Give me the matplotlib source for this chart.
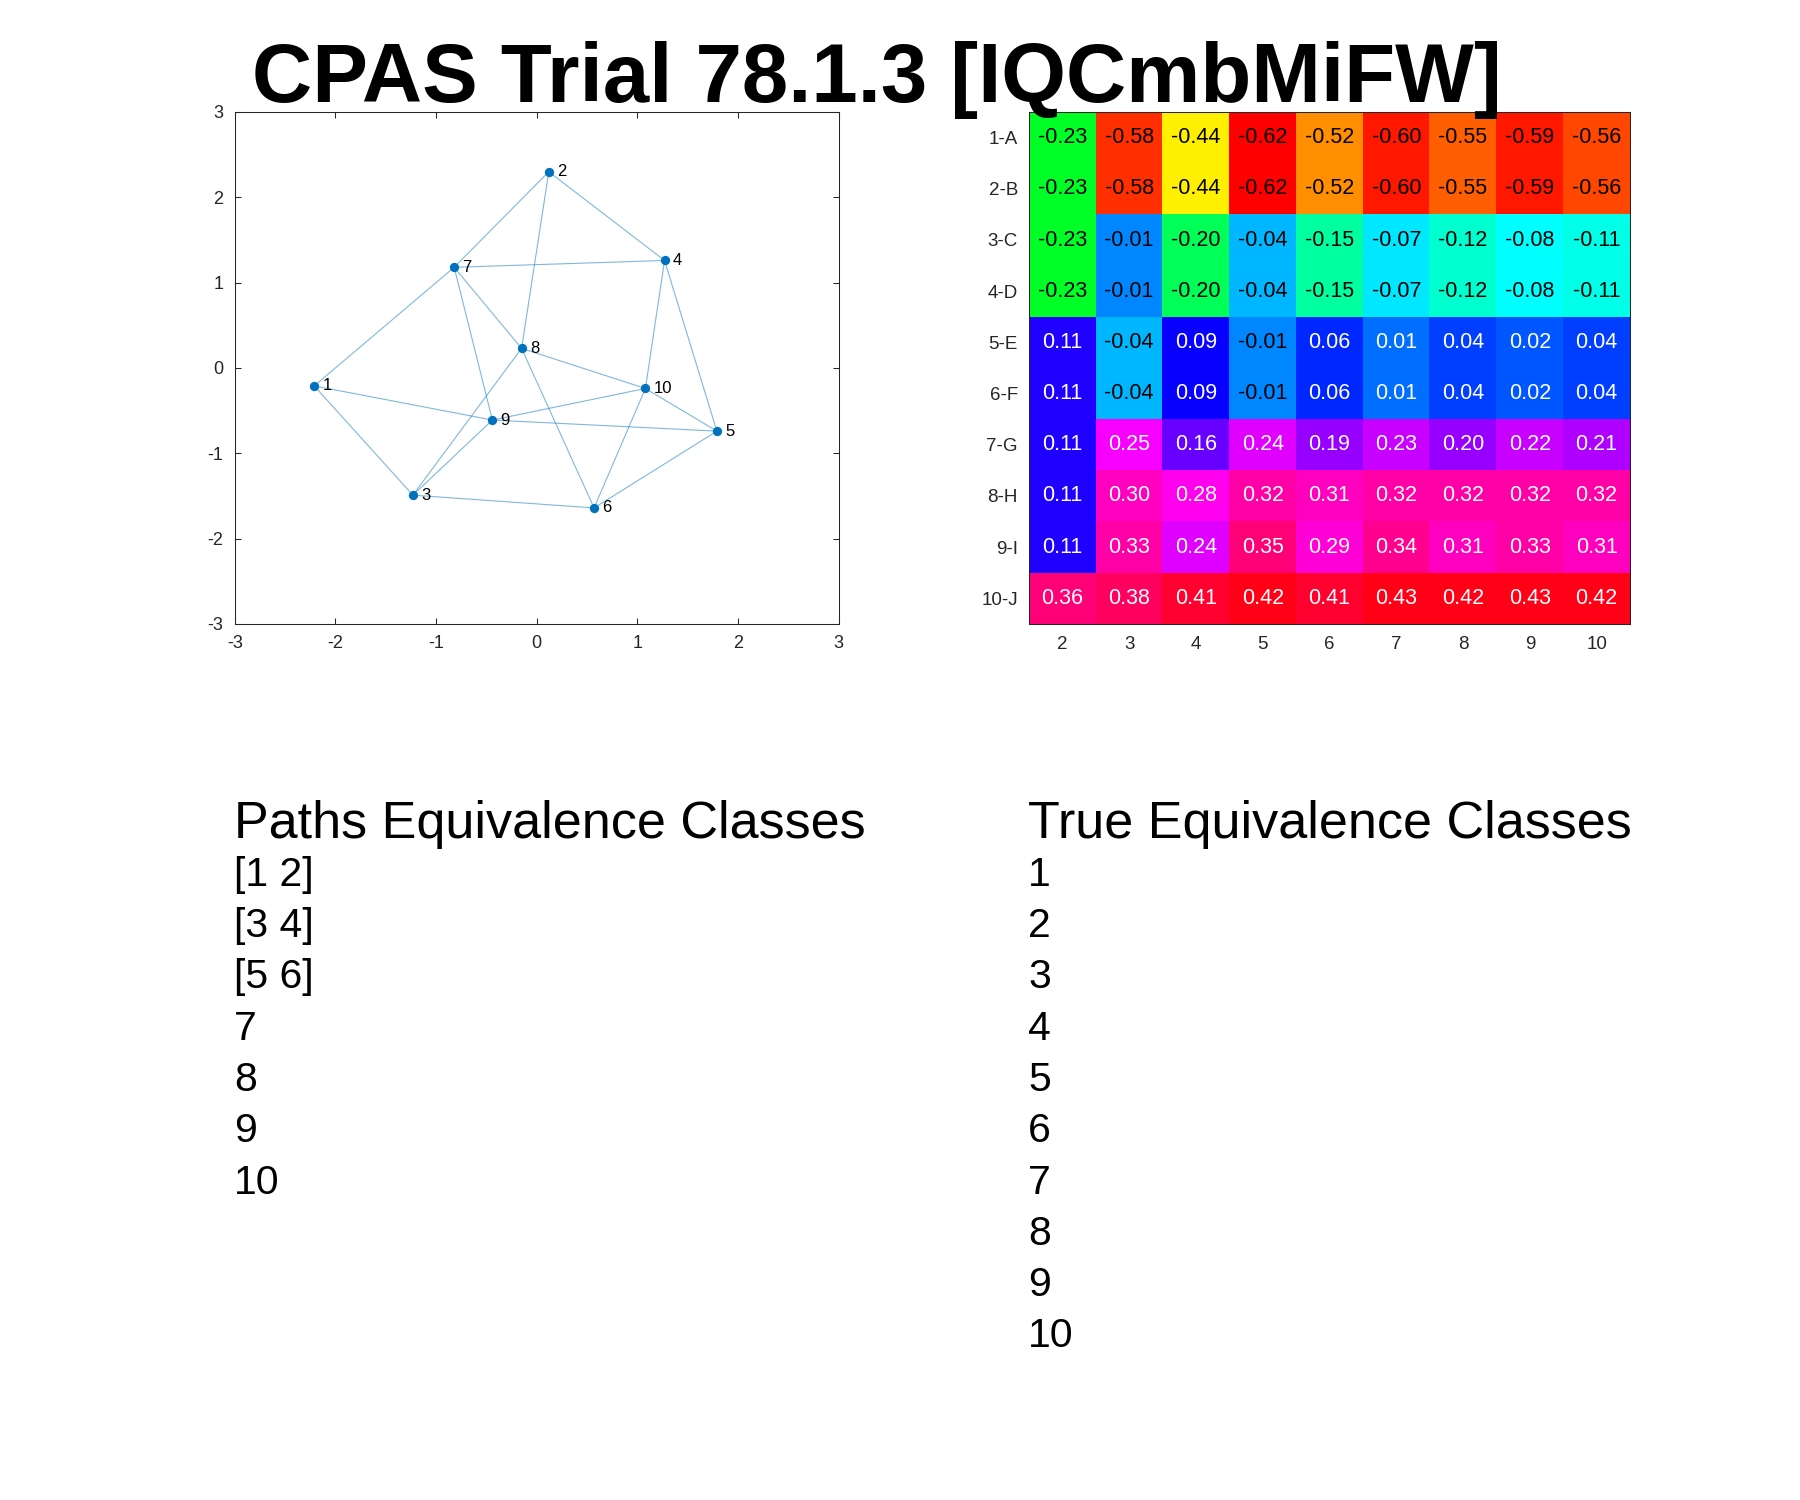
import numpy as np
import matplotlib
matplotlib.use("Agg")
import matplotlib.pyplot as plt
from matplotlib.colors import ListedColormap, Normalize, hsv_to_rgb

plt.rcParams['font.family'] = ['Liberation Sans', 'DejaVu Sans']
plt.rcParams['axes.unicode_minus'] = False

# ---------------- data ----------------
title_text = "CPAS Trial 78.1.3 [IQCmbMiFW]"

node_labels = ["1", "2", "3", "4", "5", "6", "7", "8", "9", "10"]
node_x = [-2.21, 0.12, -1.23, 1.27, 1.79, 0.57, -0.82, -0.15, -0.44, 1.08]
node_y = [-0.21, 2.30, -1.49, 1.26, -0.74, -1.64, 1.18, 0.23, -0.61, -0.24]
edges = [(2, 7), (2, 8), (2, 4), (7, 4), (7, 1), (7, 9), (7, 8), (1, 9), (1, 3),
         (8, 3), (8, 10), (8, 6), (9, 3), (9, 10), (9, 5), (10, 4), (10, 5),
         (10, 6), (4, 5), (3, 6), (6, 5)]

row_labels = ["1-A", "2-B", "3-C", "4-D", "5-E", "6-F", "7-G", "8-H", "9-I", "10-J"]
col_labels = ["2", "3", "4", "5", "6", "7", "8", "9", "10"]
row_1A = [-0.23, -0.58, -0.44, -0.62, -0.52, -0.60, -0.55, -0.59, -0.56]
row_2B = [-0.23, -0.58, -0.44, -0.62, -0.52, -0.60, -0.55, -0.59, -0.56]
row_3C = [-0.23, -0.01, -0.20, -0.04, -0.15, -0.07, -0.12, -0.08, -0.11]
row_4D = [-0.23, -0.01, -0.20, -0.04, -0.15, -0.07, -0.12, -0.08, -0.11]
row_5E = [0.11, -0.04, 0.09, -0.01, 0.06, 0.01, 0.04, 0.02, 0.04]
row_6F = [0.11, -0.04, 0.09, -0.01, 0.06, 0.01, 0.04, 0.02, 0.04]
row_7G = [0.11, 0.25, 0.16, 0.24, 0.19, 0.23, 0.20, 0.22, 0.21]
row_8H = [0.11, 0.30, 0.28, 0.32, 0.31, 0.32, 0.32, 0.32, 0.32]
row_9I = [0.11, 0.33, 0.24, 0.35, 0.29, 0.34, 0.31, 0.33, 0.31]
row_10J = [0.36, 0.38, 0.41, 0.42, 0.41, 0.43, 0.42, 0.43, 0.42]

paths_header = "Paths Equivalence Classes"
paths_classes = ["[1 2]", "[3 4]", "[5 6]", "7", "8", "9", "10"]
true_header = "True Equivalence Classes"
true_classes = ["1", "2", "3", "4", "5", "6", "7", "8", "9", "10"]

# ---------------- figure ----------------
W, H = 1800, 1500
fig = plt.figure(figsize=(W / 100, H / 100), dpi=100)

def ax_rect(x0, y0, x1, y1):
    return [x0 / W, 1 - y1 / H, (x1 - x0) / W, (y1 - y0) / H]

tick_gray = '#262626'

# ---- graph axes ----
ax1 = fig.add_axes(ax_rect(234.7, 112, 838.7, 624))
edge_color = (0.0, 0.447, 0.741)
for a, b in edges:
    ax1.plot([node_x[a - 1], node_x[b - 1]], [node_y[a - 1], node_y[b - 1]],
             color=edge_color, alpha=0.5, lw=0.8, zorder=1, solid_capstyle='butt')
ax1.plot(node_x, node_y, 'o', color='#0072BD', markersize=6.7, zorder=2, markeredgewidth=0)
for lab, x, y in zip(node_labels, node_x, node_y):
    ax1.annotate(lab, (x, y), xytext=(6.0, 0), textcoords='offset points',
                 ha='left', va='center', fontsize=12, color='black')
ax1.set_xlim(-3, 3)
ax1.set_ylim(-3, 3)
ax1.set_xticks(range(-3, 4))
ax1.set_yticks(range(-3, 4))
ax1.tick_params(direction='in', length=4.3, width=0.75, top=True, right=True,
                labelsize=13, colors=tick_gray, pad=8)
for s in ax1.spines.values():
    s.set_linewidth(0.75)
    s.set_color(tick_gray)

# ---- heatmap axes ----
M = np.array([row_1A, row_2B, row_3C, row_4D, row_5E, row_6F, row_7G, row_8H, row_9I, row_10J])
ncolor = 64
cmap = ListedColormap(hsv_to_rgb(np.column_stack([np.arange(ncolor) / ncolor,
                                                   np.ones(ncolor), np.ones(ncolor)])))
ax2 = fig.add_axes(ax_rect(1029, 112, 1630, 624))
ax2.imshow(M, cmap=cmap, norm=Normalize(vmin=M.min(), vmax=M.max()),
           aspect='auto', interpolation='nearest')
for i in range(M.shape[0]):
    for j in range(M.shape[1]):
        v = M[i, j]
        ax2.text(j, i, f"{v:.2f}", ha='center', va='center', fontsize=15.5,
                 color='black' if v < 0 else 'white')
ax2.set_xticks(range(len(col_labels)))
ax2.set_xticklabels(col_labels)
ax2.set_yticks(range(len(row_labels)))
ax2.set_yticklabels(row_labels)
ax2.tick_params(axis='x', length=0, labelsize=13.5, colors=tick_gray, pad=9)
ax2.tick_params(axis='y', length=0, labelsize=13.5, colors=tick_gray, pad=8)
for s in ax2.spines.values():
    s.set_linewidth(0.75)
    s.set_color(tick_gray)

# ---- title ----
fig.text(877 / W, 1 - 101.7 / H, title_text, ha='center', va='baseline',
         fontsize=60, fontweight='bold', color='black')

# ---- bottom lists ----
header_base = 838.0
item_base = 886.0
line_h = 51.25
fig.text(234 / W, 1 - header_base / H, paths_header, ha='left', va='baseline', fontsize=37.5)
for k, t in enumerate(paths_classes):
    fig.text(234 / W, 1 - (item_base + line_h * k) / H, t, ha='left', va='baseline', fontsize=29.5)
fig.text(1028 / W, 1 - header_base / H, true_header, ha='left', va='baseline', fontsize=37.5)
for k, t in enumerate(true_classes):
    fig.text(1028 / W, 1 - (item_base + line_h * k) / H, t, ha='left', va='baseline', fontsize=29.5)

fig.savefig("out.png", dpi=100, facecolor='white')
